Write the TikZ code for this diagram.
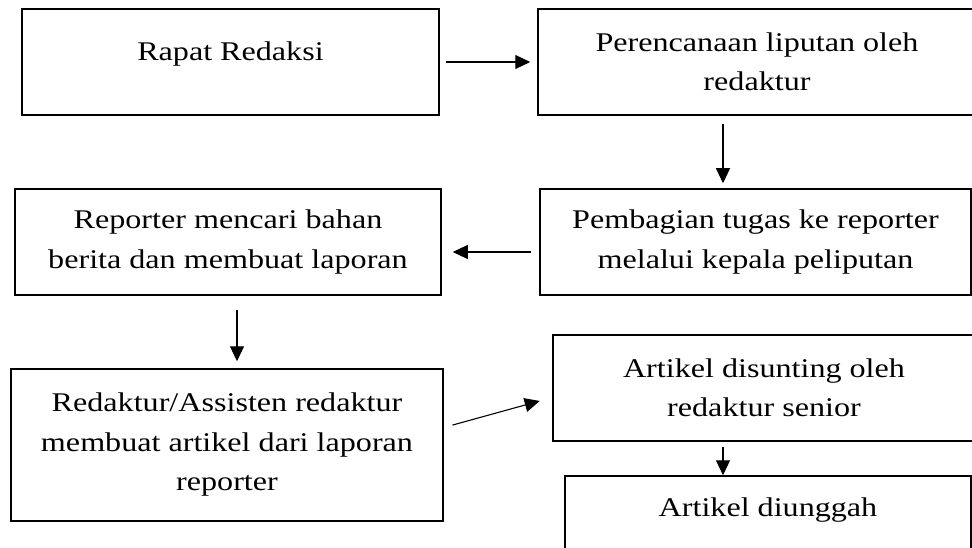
\documentclass[tikz,border=0pt]{standalone}
\usepackage{fontspec}
\setmainfont{Liberation Serif}[FakeStretch=1.19]
\usetikzlibrary{arrows.meta}
\begin{document}
\begin{tikzpicture}[x=1pt,y=-1pt,
  box/.style={draw, line width=1.5pt, inner sep=0pt, align=center, font=\fontsize{27}{39.5}\selectfont},
  arr/.style={line width=1.1pt, -{Triangle[length=15pt,width=14pt]}}]
\useasboundingbox (0,0) rectangle (972,548);
\clip (0,0) rectangle (972,548);
\node[box, minimum width=417pt, minimum height=106pt, text height=52pt, text depth=54pt] (b1) at (230.5,62) {Rapat Redaksi};
\node[box, minimum width=438pt, minimum height=106pt] (b2) at (757,62) {Perencanaan liputan oleh\\redaktur};
\node[box, minimum width=426pt, minimum height=106pt] (b3) at (228,242) {Reporter mencari bahan\\berita dan membuat laporan};
\node[box, minimum width=431pt, minimum height=106pt] (b4) at (755.5,242) {Pembagian tugas ke reporter\\melalui kepala peliputan};
\node[box, minimum width=432pt, minimum height=152pt] (b5) at (227,445) {Redaktur/Assisten redaktur\\membuat artikel dari laporan\\reporter};
\node[box, minimum width=422pt, minimum height=106pt] (b6) at (764,388) {Artikel disunting oleh\\redaktur senior};
\node[box, minimum width=406pt, minimum height=106pt, text height=40pt, text depth=66pt] (b7) at (768,529) {Artikel diunggah};
\coordinate (xA) at (723,0);
\coordinate (yB) at (0,252);
\coordinate (xC) at (237,0);
\coordinate (yD) at (0,427.5);
\coordinate (yE) at (0,397.5);
\draw[arr, shorten <=6pt, shorten >=7pt] (b1.east) -- (b2.west);
\draw[arr, shorten <=8pt, shorten >=5pt] (b2.south -| xA) -- (b4.north -| xA);
\draw[arr, shorten <=8pt, shorten >=11pt] (b4.west |- yB) -- (b3.east |- yB);
\draw[arr, shorten <=14pt, shorten >=7pt] (b3.south -| xC) -- (b5.north -| xC);
\draw[arr, shorten <=9pt, shorten >=13pt] (b5.east |- yD) -- (b6.west |- yE);
\draw[arr, shorten <=5pt] (b6.south -| xA) -- (b7.north -| xA);
\end{tikzpicture}
\end{document}
